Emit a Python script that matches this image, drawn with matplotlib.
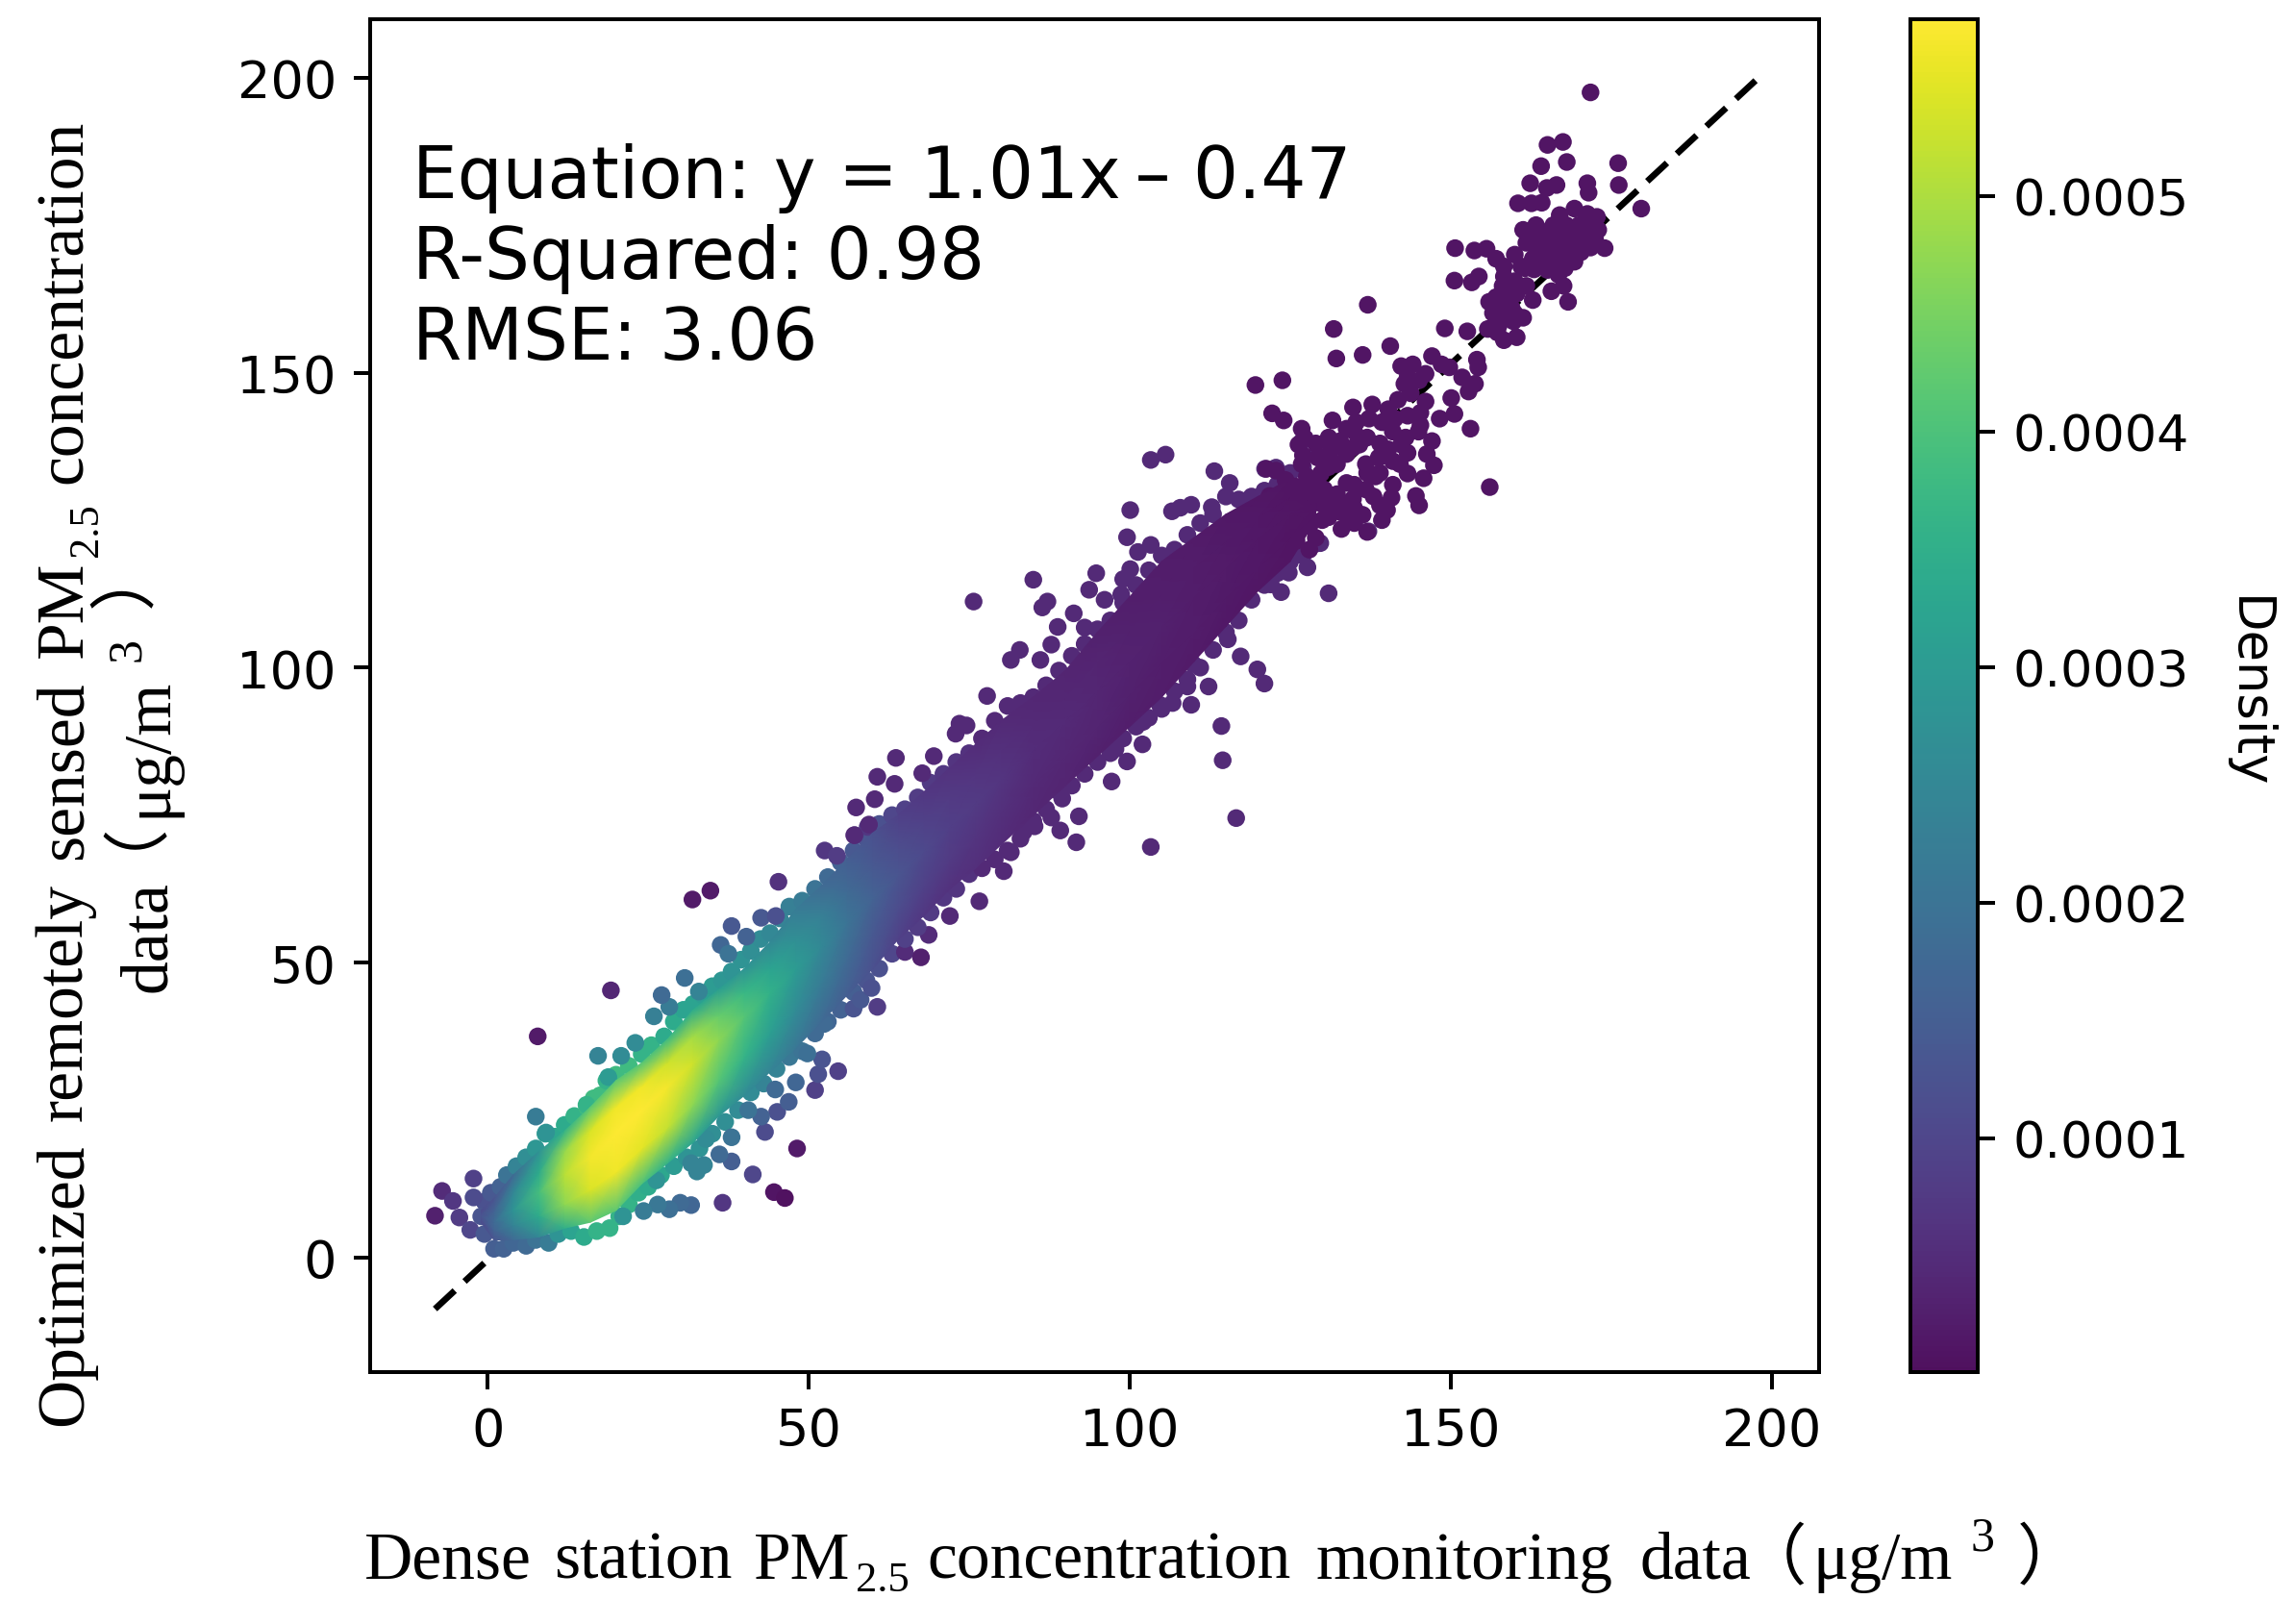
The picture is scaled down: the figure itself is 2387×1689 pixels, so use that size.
import numpy as np
import matplotlib
matplotlib.use('Agg')
import matplotlib.pyplot as plt
from matplotlib.colors import ListedColormap

# dense core of the cloud, read column by column (density in 1e-5)
band_x = [-1, 1, 4, 8, 12, 16, 20, 24, 28, 32, 36, 40, 44, 48, 52, 56, 60, 64, 68, 72, 76, 80, 85, 90, 95, 100, 105, 110, 115, 120, 125, 129]
band_y0 = [6, 3, 3, 3.5, 5, 6, 8, 12.5, 16, 19.5, 24, 27.5, 31.5, 35.5, 40, 44.5, 49, 54, 58, 62.5, 66, 70, 75, 80, 85, 90, 95, 101, 107, 113, 118, 125]
band_y1 = [6.5, 4.5, 5.5, 7, 9, 11.5, 14.5, 18.5, 22, 26, 30, 34, 38, 42, 46.5, 50.5, 55, 59, 63, 67.5, 71.5, 75.5, 80.5, 85, 90, 95.5, 101, 106, 112, 117, 122, 126]
band_y2 = [7, 6, 8, 11, 14, 17, 21, 25, 29, 33, 37, 41, 45, 49, 53, 57, 61, 65, 69, 73, 77, 81, 86, 91, 96, 101, 107, 112, 117, 122, 126, 127]
band_y3 = [7.5, 8, 11, 14.5, 18, 21.5, 25.5, 29, 33, 37.5, 41, 45, 49, 54, 58, 62, 66.5, 70, 74, 78, 82, 86, 90.5, 95, 101, 106.5, 112.5, 117, 121.5, 125.5, 129, 128]
band_y4 = [8, 10, 14, 18, 21.5, 25.5, 30, 33, 37, 42, 45.5, 49, 53.5, 59, 63, 67.5, 72, 75, 79, 83, 87, 91, 95, 99.5, 106, 112, 118, 122, 126, 129, 132, 129]
band_d0 = [11, 13, 18, 25, 35, 42, 42, 40, 36, 32, 29, 26, 24, 21, 18, 15, 12, 9, 7, 6, 5.5, 5, 4, 3.5, 3, 2.5, 2.2, 2, 1.6, 1.3, 1, 1]
band_d1 = [12, 16, 24, 34, 47, 54, 56, 55, 52, 47, 41, 36, 31, 26, 22, 18, 14, 11, 9, 7.5, 6.5, 5.5, 4.5, 4, 3.5, 3, 2.5, 2.2, 1.8, 1.5, 1.2, 1]
band_d2 = [13, 18, 28, 39, 51, 56.5, 57.5, 57.5, 56.5, 53, 47, 41, 35.5, 30, 25, 20, 16, 13, 10.5, 8.5, 7.5, 6.5, 5, 4.5, 3.8, 3.2, 2.8, 2.3, 1.9, 1.6, 1.3, 1]
band_d3 = [12, 16, 25, 34, 48, 54, 56, 56, 53, 49, 43, 37, 32, 27, 23, 18, 14, 11, 9, 7.5, 6.5, 5.5, 4.5, 4, 3.5, 3, 2.5, 2.2, 1.8, 1.5, 1.2, 1]
band_d4 = [11, 13, 18, 28, 36, 42, 42, 41, 38, 34, 31, 28, 25, 22, 18, 15, 12, 9, 7, 6, 5, 4.5, 4, 3.5, 3, 2.5, 2.2, 2, 1.6, 1.3, 1, 1]

# points along the edges of the cloud and stragglers, x < 75
low_x = [-0.5, 0.5, 2, 3, 4.5, 6, 7.5, 9, 10.5, 12, 13.5, 15.5, 16.5, 17.5, 18.5, 20, 22, 24, 25.5, 27.5, 29, 30.5, 32, 33.5, 35, 36.5, 38, 39.5, 41, 42.5, 44, 45.5, 47, 49, 51, 53, 55, 57, 59, 61,
         1, 2.5, 4, 6, 7.5, 9.5, 11, 13, 15, 17, 19, 20.5, 22, 23.5, 25, 27, 29, 31, 33, 35, 37, 39, 41, 43, 45, 47, 49, 51, 53, 55, 57, 59, 61, 63,
         -8.2, -7.1, -5.4, -4.4, -2.7, -2.2, -2.2, -1, -0.5,
         36.6, 44.6, 46.3, 41.3, 48.2, 38, 36.1, 43.2, 45.1, 46.9, 44.8, 51, 54.6, 51.5, 52.1, 49.8, 48, 42.6, 40.6, 38,
         31.7, 30, 28.3, 26.5, 24.3, 21.1, 26.3, 32.6, 31.7, 33.7, 34,
         7.8, 7.5, 19.2, 31.9, 34.7, 45.3, 17.2, 20.8, 23, 18.8, 9.1, 15.4, 25.9, 28.3, 27.1, 30.7, 32.9,
         36.3, 37.5, 38, 40.3, 42.6, 44.9, 52.5, 54.4, 57.2, 59.2, 60.7, 57, 58.1, 59.8, 52.4, 65, 67.5, 68.7,
         63, 65, 67, 69, 71, 73, 75, 65, 67, 69, 71, 73, 75]
low_y = [9.5, 11, 12, 14, 15.5, 17, 18.5, 21, 20.5, 22.5, 24, 25.5, 27, 27.5, 30, 31, 32.5, 34.5, 36, 37.5, 40, 42, 43, 44.5, 46, 47, 48.5, 50.5, 52, 54, 55, 57.5, 59.5, 60.5, 62.5, 64.5, 67, 69, 71, 73.5,
         1.5, 1.5, 2.5, 2, 3, 2.5, 4, 4.5, 3.5, 4.5, 5, 7, 9, 11, 12, 14, 15.5, 17, 18.5, 21, 23, 25, 28, 29.5, 32, 34, 35, 38, 40, 42, 45, 47, 49, 51.5,
         7.1, 11.3, 9.6, 6.8, 4.7, 13.4, 10.2, 7, 4,
         9.3, 11.1, 10.1, 14.1, 18.5, 16.3, 17.5, 21.3, 24.7, 26.4, 28.5, 28.4, 31.6, 31.1, 33.6, 34.6, 29.7, 23.9, 25, 20.4,
         8.9, 9.3, 8.2, 9, 7.9, 7, 13.1, 14.6, 16, 15.7, 20.1,
         37.5, 23.9, 45.3, 60.7, 62.2, 63.7, 34.2, 34.2, 36.4, 30.6, 21.2, 25.9, 40.9, 42.5, 44.5, 47.4, 45.1,
         53, 51.5, 56.2, 54.4, 57.6, 57.9, 69, 68.1, 71.6, 73, 42.5, 42.2, 43.7, 45.7, 39.6, 51.8, 50.9, 54.7,
         75, 76, 78, 80.5, 82, 84, 85.5, 54, 56, 58.5, 61, 62.5, 65]
low_d = [12, 14, 16, 20, 24, 27, 29, 30, 33, 34, 36, 38, 38, 38, 36, 38, 38, 36, 36, 34, 34, 32, 32, 31, 30, 29, 28, 28, 27, 26, 25, 24, 23, 22, 20, 18, 16, 14, 13, 12,
         15, 16, 17, 18, 20, 22, 28, 32, 34, 36, 36, 36, 36, 35, 34, 33, 30, 28, 28, 27, 27, 26, 26, 24, 24, 21, 20, 18, 17, 16, 15, 13, 12, 10,
         3, 5, 7, 8, 10, 9, 11, 13, 14,
         7, 1, 0.5, 10, 2, 15, 18, 11, 12, 15, 18, 9, 9, 12, 13, 19, 17, 16, 20, 20,
         17, 18, 19, 21, 22, 28, 28, 24, 24, 24, 26,
         2, 22, 4, 2, 2, 6, 24, 26, 26, 30, 28, 36, 23, 22, 18, 19, 24,
         17, 20, 14, 16, 14, 12, 7, 8, 7, 7, 8, 13, 14, 12, 18, 5, 3, 5,
         10, 9, 8, 7.5, 7, 6.5, 6, 9, 8, 7.5, 7, 6.5, 6]

# the dark middle stretch
mid_x = [77, 79, 81, 83, 85, 87, 89, 91, 93, 95, 97, 99, 101, 103, 105, 107, 109, 111, 113, 115, 117, 119, 121, 123, 125, 127, 129,
         77, 79, 81, 83, 85, 87, 89, 91, 93, 95, 97, 99, 101, 103, 105, 107, 109, 111, 113, 115, 117, 119, 121, 123, 125, 127, 129,
         57.4, 60.3, 60.7, 63.4, 63.6, 67.7, 69.5, 72.9, 73.5, 74.6, 75.7, 77.8, 85, 86.4, 87.2, 91.3, 88.8, 87.8, 81.5, 82.9, 86.1, 93, 93.7, 94.8, 96.1,
         100.1, 99.6, 103.3, 101.3, 100.1, 99, 98.7, 103.3, 105.6, 106.6, 107.9, 109.6, 112.8, 113.2, 115.6, 121.1, 122.8, 126.8,
         129.7, 131, 124.8, 127.7, 123.6, 122, 137.2, 117.3, 119.9, 121, 109.9, 115.3, 109, 112.3, 109.6, 106.7, 104.7, 114.3, 114.5,
         102.1, 102, 99.6, 97.8, 97.2, 116.6, 103.3, 92.1, 91.7, 87.8, 89.2, 89.5, 85.2, 83.5, 81.5, 80.4, 76.6, 72, 57.1, 59.4]
mid_y = [88, 91, 93.5, 94, 95, 97, 99.5, 102, 104, 106.5, 108, 111, 114, 116.5, 119, 120, 122.5, 124.5, 126, 129, 128.5, 129, 130, 131, 133, 134, 136,
         66, 67.5, 69, 71, 74, 76, 79, 80, 82, 84, 85.5, 88, 90, 91.5, 93, 96, 98, 100, 103, 106, 108, 111.5, 114, 116, 118, 119, 121,
         76.3, 77.7, 81.5, 80.3, 84.7, 82.1, 85, 88.8, 90.5, 90.2, 111.2, 95.2, 114.9, 110.2, 111.2, 109.2, 106.9, 103.9, 101.3, 103, 101.3, 106.8, 113.2, 116, 111.5,
         126.7, 122.1, 120.8, 119.6, 116.7, 115, 112.4, 135.2, 136.1, 126.5, 127.1, 127.6, 127.2, 133.3, 131.3, 133.7, 133.9, 138.3,
         121.1, 112.6, 116.1, 117, 112.8, 114.1, 123.1, 101.9, 99.7, 97.3, 100.6, 104.8, 96.8, 96.8, 93.7, 94, 93.7, 90.1, 84.3,
         90.8, 87, 84.1, 86.2, 80.7, 74.5, 69.6, 74.8, 70.4, 74.6, 72.4, 77.8, 73.1, 72.2, 68.7, 65.5, 60.4, 57.9, 71.6, 73.4]
mid_density = 4.5e-5

# the sparse upper tail
tail_x = [161.3, 163.3, 167, 169.3, 171.3, 172.8, 173, 174, 172.5, 170.8, 169.3, 167.8, 166.3, 164.8, 163.3, 161.8, 168.8, 167.3, 165.8, 164.3, 162.8, 161.6, 167.8, 169.3, 166.3, 170.3, 171.8, 166.8, 165.1,
          168.3, 165.7, 167.6, 162.8, 161.8, 160.3, 159.1, 157.1, 158.1, 158.3, 158.3, 157.1, 155.6, 153.7, 150.7, 150.6, 153.3, 154.4, 156.6, 158.3, 161.3, 159.8, 158.6, 155.8, 157.3, 158.3, 160.3, 152.6, 149.1,
          137.1, 131.8, 132.2, 136.3, 140.6, 147.1, 148.6, 149.8, 154.1, 154.3, 151.8, 153.8, 152.8, 142.3, 144.1, 143.3, 145.1, 142.8, 146.1, 143.8, 141.8, 140.3, 137.8, 134.8, 146.1, 145.3, 150.1, 150.6, 148.3,
          145.3, 143.3, 141.3, 139.3, 137.3, 135.3, 133.8, 131.6, 153.1, 122.2, 124, 123.8, 119.6, 126.8, 127.3, 126.3, 147.1, 146.3, 147.4, 145.8, 143.3, 142.1, 142.3, 143.3, 140.3, 138.8, 156.1,
          144.6, 145.1, 140.8, 140.1, 139.3, 136.3, 138.3, 136.8, 134.8, 132.8, 131.3, 129.3, 126.8, 121.3, 122.8, 124.3, 125.8, 127.6, 129.8, 132.3, 133.8, 135.8, 136.8, 133.8, 132.3, 130.3, 128.3, 126.3,
          123.8, 121.8, 119.8, 122.8, 125.3, 127.8, 130.3, 132.8, 134.8, 128, 130, 133, 135, 137, 139, 141, 129, 126, 128,
          171.8, 165.1, 167.5, 164.1, 168.1, 176.1, 176.2, 179.7, 162.4, 166.5, 165, 171.3, 171.5, 160.5, 162.6, 164.2,
          164, 166, 168, 170, 172, 163, 165, 168, 166, 164, 168.5, 166, 163, 160, 159.5, 160, 157.5, 156, 161, 160,
          127, 129, 131, 133, 135, 137, 139, 141, 143, 145, 139, 141, 137, 135, 131, 129, 127, 131, 129, 127, 125, 135, 138, 131, 134]
tail_y = [174.2, 175, 176.7, 177.8, 176.9, 176.4, 174.2, 171.1, 172.6, 172.6, 173.1, 173.7, 172.6, 172, 171.2, 172, 171, 170.4, 169.9, 169.6, 169.3, 167.7, 167.7, 168.8, 168.2, 170.4, 171.2, 166.6, 167.4,
          162, 163.8, 164.7, 162.3, 164.7, 163.4, 162.3, 162.8, 164.7, 166.3, 168, 169.3, 171, 170.7, 171.1, 165.6, 165.3, 166.3, 160.1, 161.2, 159.3, 158.7, 159.5, 157.4, 156.8, 155.5, 156, 157, 157.5,
          161.5, 157.4, 152.4, 153, 154.5, 152.8, 151.4, 150.9, 152.2, 150.9, 149.2, 148.1, 146.8, 151.1, 151.4, 149.2, 148.7, 148.1, 149.8, 146.5, 145.4, 143.8, 144.6, 144.1, 145.1, 143.2, 145.7, 143, 142.2,
          141.1, 142.7, 142.2, 141.6, 142.2, 141.6, 140.5, 141.9, 140.5, 143.1, 141.9, 148.7, 147.9, 140.5, 138.9, 137.8, 138.4, 136.2, 134.3, 132.1, 132.9, 134.5, 137.8, 136.4, 137, 135.6, 130.6,
          129.1, 127.5, 128.8, 126.7, 125, 125.9, 132.4, 134.5, 137.3, 138.4, 136.7, 135.6, 134.5, 133.7, 133.4, 131.8, 130.7, 132.4, 132.9, 134.5, 136.2, 137.8, 130.2, 131.3, 129.4, 130.2, 129.7, 128.6,
          129.1, 129.1, 126.9, 126.4, 126.7, 126.9, 127.5, 126.4, 128.6, 124, 125, 123.5, 124.5, 123, 127.5, 131, 122, 121.5, 120,
          197.5, 188.6, 189.1, 185, 185.7, 185.5, 181.8, 177.8, 182.1, 181.8, 181.3, 182.1, 180.5, 178.7, 178.7, 178.8,
          174, 175, 175, 175, 174.5, 173, 173.5, 172, 170.5, 170, 169.5, 171, 167.5, 165.5, 161, 160, 158, 162, 168, 170,
          127, 128, 128, 128, 131, 133, 133, 135, 139, 140, 138, 140, 139, 140, 139, 138, 136, 134, 131, 130, 128.5, 127, 129, 125.5, 126]
tail_density = 1e-5

line_x = [-8.2, 197.5]
line_y = [-8.7, 199.5]

x_ticks = [0, 50, 100, 150, 200]
y_ticks = [0, 50, 100, 150, 200]
bar_ticks = [0.0001, 0.0002, 0.0003, 0.0004, 0.0005]
stat_lines = ['Equation: y = 1.01x\u2009– 0.47', 'R-Squared: 0.98', 'RMSE: 3.06']
stat_y = [179.7, 166, 152.3]

W, H = 2387, 1690
fig = plt.figure(figsize=(W / 200, H / 200), dpi=200)
ax = fig.add_axes([385 / W, 1 - 1428 / H, (1892 - 385) / W, (1428 - 21) / H])

base = plt.get_cmap('viridis')(np.linspace(0, 1, 256))[:, :3]
cmap = ListedColormap(base * 0.94 + 0.06)
vmin, vmax = 1e-6, 5.75e-4

ax.plot(line_x, line_y, color='k', lw=2.4, dashes=(4.2, 2.1), zorder=1)

xs = np.array(low_x + mid_x + tail_x)
ys = np.array(low_y + mid_y + tail_y)
ds = np.array([d * 1e-5 for d in low_d] + [mid_density] * len(mid_x) + [tail_density] * len(tail_x))
sc = ax.scatter(xs, ys, c=ds, cmap=cmap, vmin=vmin, vmax=vmax, s=44, linewidths=0, zorder=2)

X = np.tile(band_x, (5, 1))
Y = np.array([band_y0, band_y1, band_y2, band_y3, band_y4])
C = np.array([band_d0, band_d1, band_d2, band_d3, band_d4]) * 1e-5
ax.pcolormesh(X, Y, C, shading='gouraud', cmap=cmap, vmin=vmin, vmax=vmax, zorder=3)

for line, yy in zip(stat_lines, stat_y):
    ax.text(-11.7, yy, line, fontsize=26.6, color='k', va='baseline', zorder=5)

ax.set_xlim(-18.3, 207.4)
ax.set_ylim(-19.4, 209.9)
ax.set_xticks(x_ticks)
ax.set_yticks(y_ticks)
ax.tick_params(labelsize=19.5, length=6.3, width=1.44, pad=6.3)
for s in ax.spines.values():
    s.set_linewidth(1.44)

cax = fig.add_axes([1987 / W, 1 - 1428 / H, 70 / W, (1428 - 21) / H])
cb = fig.colorbar(sc, cax=cax)
cb.set_ticks(bar_ticks)
cb.set_ticklabels(['0.0001', '0.0002', '0.0003', '0.0004', '0.0005'])
cb.ax.tick_params(labelsize=18.8, length=6.3, width=1.44, pad=7)
cb.outline.set_linewidth(1.44)
fig.text(2338 / W, 1 - 720 / H, 'Density', rotation=270, fontsize=19, ha='center', va='center')


def label(px, py, s, size=25, rot=0, family='Liberation Serif'):
    # pieces of the axis titles, placed by start of baseline
    fig.text(px / W, 1 - py / H, s, fontsize=size, rotation=rot, rotation_mode='anchor',
             ha='left', va='baseline', family=family)


cjk = 'Noto Sans CJK SC'
label(379, 1642, 'Dense')
label(576, 1642, 'station')
label(784, 1642, 'PM')
label(890, 1655, '2.5', 16)
label(964, 1642, 'concentration')
label(1369, 1642, 'monitoring')
label(1705, 1642, 'data')
label(1810, 1642, '（', 25, family=cjk)
label(1885, 1642, 'μg/m')
label(2050, 1613, '3', 18)
label(2098, 1642, '）', 25, family=cjk)

label(85, 1483, 'Optimized', rot=90)
label(85, 1166, 'remotely', rot=90)
label(85, 894, 'sensed', rot=90)
label(85, 684, 'PM', rot=90)
label(101, 579, '2.5', 16, rot=90)
label(85, 503, 'concentration', rot=90)
label(172, 1032, 'data', rot=90)
label(120, 883, '（', 25, rot=90, family=cjk)
label(172, 850, 'μg/m', rot=90)
label(145, 688, '3', 18, rot=90)
label(151, 632, '）', 25, rot=90, family=cjk)

fig.savefig('out.png', dpi=200)
